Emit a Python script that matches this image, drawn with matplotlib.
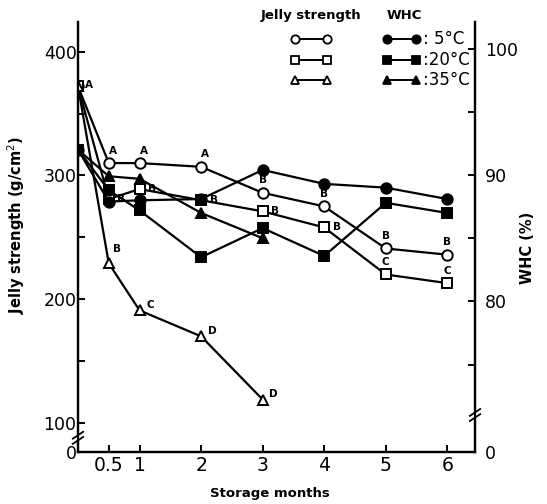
import matplotlib
matplotlib.use("Agg")
import matplotlib.pyplot as plt

plt.rcParams['font.family'] = ['DejaVu Sans']

# storage time (months)
months = [0, 0.5, 1, 2, 3, 4, 5, 6]
months_35 = [0, 0.5, 1, 2, 3]

# jelly strength (g/cm2), open symbols
js_5 = [372, 310, 310, 307, 286, 275, 241, 236]
js_20 = [372, 281, 289, 280, 271, 258, 220, 213]
js_35 = [372, 229, 191, 170, 119]

# significance letters
js_5_letters = ['A', 'A', 'A', 'A', 'B', 'B', 'B', 'B']
js_20_letters = ['', 'B', 'B', 'B', 'B', 'B', 'C', 'C']
js_35_letters = ['', 'B', 'C', 'D', 'D']

# water holding capacity (%), filled symbols
whc_5 = [92.0, 87.9, 88.0, 88.1, 90.4, 89.3, 89.0, 88.1]
whc_20 = [92.0, 88.8, 87.2, 83.5, 85.8, 83.6, 87.8, 87.0]
whc_35 = [92.0, 89.9, 89.7, 87.0, 85.0]

xticks = [0.5, 1, 2, 3, 4, 5, 6]
xticklabels = ['0.5', '1', '2', '3', '4', '5', '6']
temps = [': 5°C', ':20°C', ':35°C']

fig = plt.figure(figsize=(5.47, 5.04), dpi=100)
ax = fig.add_axes([0.1426, 0.1032, 0.7258, 0.8532])
ax2 = ax.twinx()

js_lo, js_hi = 76.6, 424
whc_lo, whc_hi = 68.1, 102.1
ax.set_xlim(0, 6.45)
ax.set_ylim(js_lo, js_hi)
ax2.set_ylim(whc_lo, whc_hi)

lw = 1.6
ms = 7.5
mew = 1.4
open_kw = dict(color='black', lw=lw, ms=ms, mew=mew, mfc='white', zorder=4)
fill_kw = dict(color='black', lw=lw, ms=ms, mew=mew, mfc='black', zorder=3)

ax.plot(months, js_5, marker='o', **open_kw)
ax.plot(months, js_20, marker='s', **open_kw)
ax.plot(months_35, js_35, marker='^', **open_kw)
ax2.plot(months, whc_5, marker='o', **fill_kw)
ax2.plot(months, whc_20, marker='s', **fill_kw)
ax2.plot(months_35, whc_35, marker='^', **fill_kw)

# letters
def put_letters(xs, ys, letters, offsets):
    for x, y, t, off in zip(xs, ys, letters, offsets):
        if t:
            ax.annotate(t, (x, y), xytext=off, textcoords='offset points',
                        ha='center', va='center', fontsize=7.5, fontweight='bold', zorder=6)

put_letters(months, js_5, js_5_letters,
            [(8, 1)] + [(3, 9)] * 3 + [(0, 9)] * 4)
put_letters(months, js_20, js_20_letters,
            [(0, 0)] + [(9, 0)] * 5 + [(0, 9)] * 2)
put_letters(months_35, js_35, js_35_letters,
            [(0, 0), (6, 10), (8, 4), (8, 4), (8, 4)])

# axes styling
for a in (ax, ax2):
    a.spines['top'].set_visible(False)
    for s in a.spines.values():
        s.set_linewidth(1.6)

ax.set_xticks(xticks)
ax.set_xticklabels(xticklabels)
ax.set_yticks([js_lo, 100, 150, 200, 250, 300, 350, 400])
ax.set_yticklabels(['0', '100', '', '200', '', '300', '', '400'])
ax2.set_yticks([whc_lo, 75, 80, 85, 90, 95, 100])
ax2.set_yticklabels(['0', '', '80', '', '90', '', '100'])
ax.tick_params(axis='y', direction='in', length=5, width=1.4, labelsize=12.5, pad=1)
ax.tick_params(axis='x', direction='in', length=5, width=1.4, labelsize=13.5, pad=3)
ax2.tick_params(direction='in', length=5, width=1.4, labelsize=12.5, pad=7)

ax.set_ylabel('Jelly strength (g/cm$^2$)', fontsize=10.5, fontweight='bold')
ax.yaxis.set_label_coords(-0.128, 0.528)
ax2.set_ylabel('WHC (%)', fontsize=10.5, fontweight='bold')
ax2.yaxis.set_label_coords(1.113, 0.474)
ax.set_xlabel('Storage months', fontsize=9.5, fontweight='bold')
ax.xaxis.set_label_coords(0.484, -0.082)

# axis break marks
def break_mark(xf, yf):
    d = 0.012
    ax.plot([xf - 0.012, xf + 0.012], [yf - 0.004, yf + 0.006], color='white',
            lw=4, transform=ax.transAxes, clip_on=False, zorder=7)
    for dy in (-d / 2, d / 2):
        ax.plot([xf - 0.013, xf + 0.013], [yf - 0.008 + dy, yf + 0.008 + dy],
                color='black', lw=1.3, transform=ax.transAxes, clip_on=False, zorder=8)

break_mark(0.0, 0.033)
break_mark(1.0, 0.086)

# legend drawn by hand
tr = ax.transAxes
ax.text(0.587, 1.016, 'Jelly strength', transform=tr, ha='center', va='center',
        fontsize=9.5, fontweight='bold')
ax.text(0.821, 1.016, 'WHC', transform=tr, ha='center', va='center',
        fontsize=9.5, fontweight='bold')
rows_y = [0.960, 0.912, 0.865]
for yy, m, t in zip(rows_y, ['o', 's', '^'], temps):
    ax.plot([0.547, 0.627], [yy, yy], marker=m, transform=tr, clip_on=False,
            color='black', lw=1.4, ms=6, mew=1.3, mfc='white')
    ax.plot([0.778, 0.852], [yy, yy], marker=m, transform=tr, clip_on=False,
            color='black', lw=1.4, ms=6, mew=1.3, mfc='black')
    ax.text(0.868, yy, t, transform=tr, ha='left', va='center', fontsize=12)

fig.savefig('out.png', dpi=100)
